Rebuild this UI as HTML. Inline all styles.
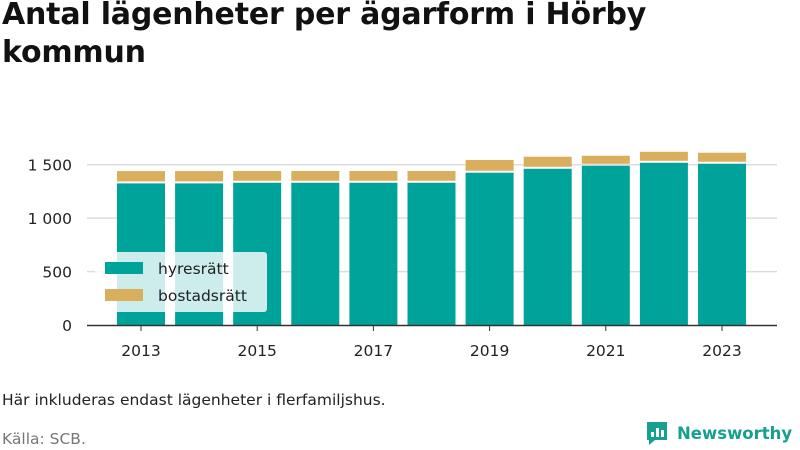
<!DOCTYPE html>
<html><head><meta charset="utf-8"><style>
body{margin:0;width:800px;height:450px;background:#fff;font-family:"DejaVu Sans",sans-serif;overflow:hidden;position:relative}
h1{position:absolute;left:2px;top:-4px;margin:0;font-size:30px;line-height:38px;font-weight:bold;color:#111;letter-spacing:-0.2px}
.t{position:absolute;font-size:15.5px;color:#222}
</style></head><body>
<h1>Antal lägenheter per ägarform i Hörby<br>kommun</h1>
<svg id="c" width="800" height="450" style="position:absolute;left:0;top:0"></svg>
<div class="t" style="left:2px;top:391px">Här inkluderas endast lägenheter i flerfamiljshus.</div>
<div class="t" style="left:2px;top:430px;color:#777">Källa: SCB.</div>
<div style="position:absolute;left:645px;top:420px;display:flex;align-items:center">
<svg width="24" height="26"><path d="M2 2h20v18H10l-6 5v-5H2z" fill="#16a08f"/><rect x="6" y="12" width="3" height="5" fill="#fff"/><rect x="11" y="8" width="3" height="9" fill="#fff"/><rect x="16" y="10" width="3" height="7" fill="#fff"/></svg>
<span style="font-size:16.5px;font-weight:bold;color:#16a08f;margin-left:8px">Newsworthy</span></div>
<script>
const years=["2013","2014","2015","2016","2017","2018","2019","2020","2021","2022","2023"];
const hyres=[1325,1325,1331,1331,1331,1331,1425,1462,1490,1518,1509];
const bostad=[115,115,110,110,110,110,119,113,94,103,103];
const yTicks=[0,500,1000,1500];
const yLabels=["0","500","1 000","1 500"];
const svg=document.getElementById('c');const NS="http://www.w3.org/2000/svg";
function y(v){return 325-v*160.3/1500;}
function x(i){return 141+i*58.1;}
function el(t,a,p){const e=document.createElementNS(NS,t);for(const k in a)e.setAttribute(k,a[k]);(p||svg).appendChild(e);return e;}
yTicks.forEach((v,i)=>{if(v>0){const g=el('line',{x1:87,x2:777,y1:y(v),y2:y(v),stroke:'#ddd','stroke-width':1.5});

}
const t=el('text',{x:72,y:y(v)+6,'text-anchor':'end','font-size':15.5,fill:'#222','font-family':'DejaVu Sans'});


t.textContent=yLabels[i];});
years.forEach((yr,i)=>{
const b1=el('rect',{x:x(i)-24,width:48,y:y(hyres[i]),height:y(0)-y(hyres[i]),fill:'#00a399'});


const top=hyres[i]+bostad[i];
const b2=el('rect',{x:x(i)-24,width:48,y:y(top),height:y(hyres[i])-y(top)-2,fill:'#d9ae5c'});


if(i%2==0){const t=el('text',{x:x(i),y:356,'text-anchor':'middle','font-size':15.5,fill:'#222','font-family':'DejaVu Sans'});


t.textContent=yr;
const tk=el('line',{x1:x(i),x2:x(i),y1:325,y2:331,stroke:'#333'});

}
});
const ax=el('line',{x1:87,x2:777,y1:325.5,y2:325.5,stroke:'#333','stroke-width':1.5});


const lg=el('g',{});


el('rect',{x:95,y:252,width:172,height:60,rx:3,fill:'rgba(255,255,255,0.8)'},lg);
[["hyresrätt","#00a399",268],["bostadsrätt","#d9ae5c",295]].forEach(d=>{
const r=el('rect',{x:105,y:d[2]-6,width:38,height:12,fill:d[1]},lg);


const t=el('text',{x:158,y:d[2]+6,'font-size':15.5,fill:'#222','font-family':'DejaVu Sans'},lg);


t.textContent=d[0];});
</script>
</body></html>
